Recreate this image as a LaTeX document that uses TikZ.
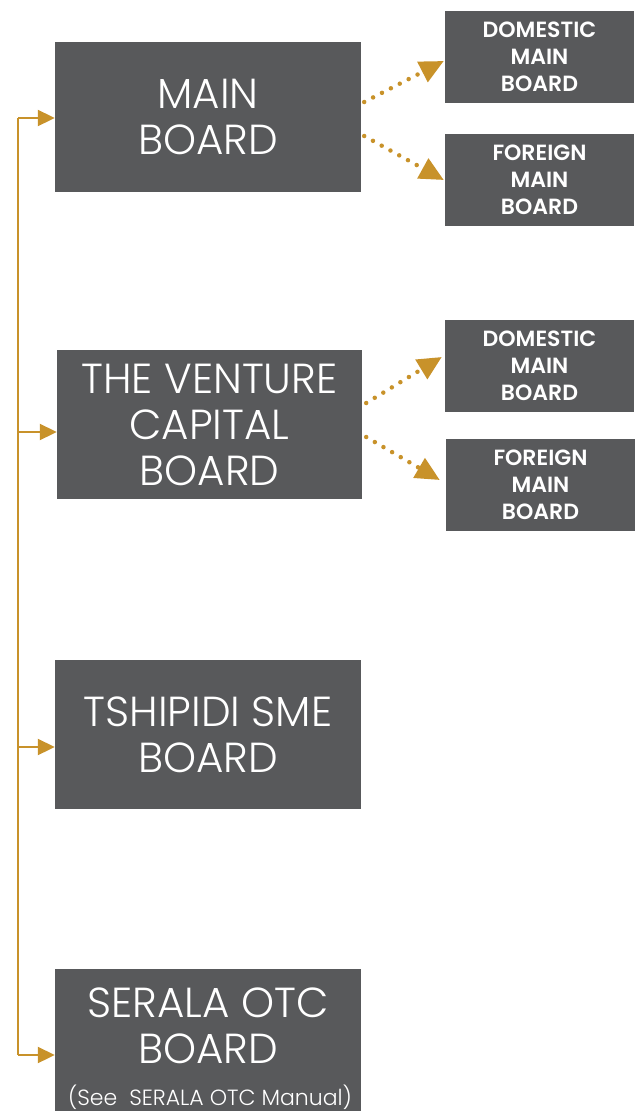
\documentclass[tikz,border=0pt]{standalone}
\usepackage{fontspec}
\setmainfont{Poppins}[UprightFont={* Light}, BoldFont={* SemiBold}]
\usetikzlibrary{arrows.meta}
\definecolor{boxgray}{HTML}{58595B}
\definecolor{gold}{HTML}{C8922A}
\tikzset{
  bigbox/.style={fill=boxgray, draw=none, text=white, minimum width=306pt, minimum height=150pt, inner sep=0pt, align=center, font=\fontsize{42}{46}\selectfont},
  smallbox/.style={fill=boxgray, draw=none, text=white, minimum width=189pt, minimum height=92pt, inner sep=0pt, align=center, font=\fontsize{22}{27}\selectfont\bfseries},
  trunk/.style={draw=gold, line width=2pt},
  feed/.style={draw=gold, line width=2pt, -{Triangle[length=17pt,width=16pt]}, color=gold},
  dotarrow/.style={draw=gold, color=gold, line width=4.5pt, line cap=round, dash pattern=on 0pt off 10pt, -{Triangle[length=24pt,width=22pt,line cap=butt]}}
}
\begin{document}
\begin{tikzpicture}[x=1pt,y=1pt]
\useasboundingbox (0,0) rectangle (640,-1111);
\begin{scope}
\clip (0,0) rectangle (640,-1111);
\node[bigbox] (main) at (208,-117) {MAIN\\BOARD};
\node[smallbox] (dom1) at (539.5,-57) {DOMESTIC\\MAIN\\BOARD};
\node[smallbox] (for1) at (539.5,-180) {FOREIGN\\MAIN\\BOARD};
\node[bigbox, minimum width=305pt, minimum height=149pt] (vent) at (209.5,-424.5) {THE VENTURE\\CAPITAL\\BOARD};
\node[smallbox] (dom2) at (539.5,-366) {DOMESTIC\\MAIN\\BOARD};
\node[smallbox] (for2) at (540.5,-485) {FOREIGN\\MAIN\\BOARD};
\node[bigbox, minimum height=149pt] (tship) at (208,-734.5) {TSHIPIDI SME\\BOARD};
\node[bigbox, minimum height=144pt] (serala) at (208,-1041) {};
\node[text=white, font=\fontsize{42}{46}\selectfont, align=center] (seralat) at (208,-1026) {SERALA OTC\\BOARD};
\node[text=white, font=\fontsize{22}{24}\selectfont] (seralan) at (210,-1097) {(See\ \ SERALA OTC Manual)};
\end{scope}
\coordinate (ttop) at (18,-118);
\coordinate (tbot) at (18,-1055);
\draw[trunk] (ttop) -- (tbot);
\draw[feed] (ttop) -- (ttop -| main.west);
\draw[feed] (18,-432) coordinate (j2) -- (j2 -| vent.west);
\draw[feed] (18,-747) coordinate (j3) -- (j3 -| tship.west);
\draw[feed] (tbot) -- (tbot -| serala.west);
\draw[dotarrow] ([shift={(3,15)}]main.east) -- ([shift={(-1,-4)}]dom1.west);
\draw[dotarrow] ([shift={(3,-19)}]main.east) -- ([shift={(-1,0)}]for1.west);
\draw[dotarrow] ([shift={(4,21.5)}]vent.east) -- ([shift={(-3,9)}]dom2.west);
\draw[dotarrow] ([shift={(4,-12.5)}]vent.east) -- ([shift={(-6,5)}]for2.west);
\end{tikzpicture}
\end{document}
